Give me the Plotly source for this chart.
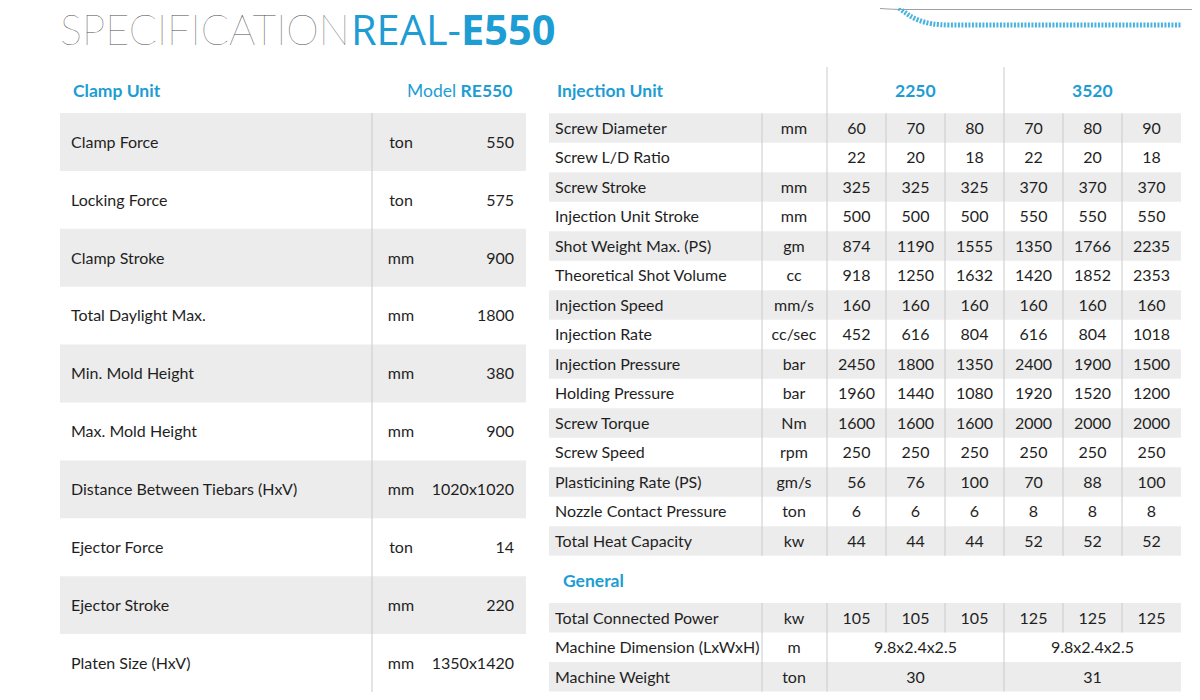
import plotly.graph_objects as go

# ---- data ----
clamp_params = [
    "Clamp Force", "Locking Force", "Clamp Stroke", "Total Daylight Max.",
    "Min. Mold Height", "Max. Mold Height", "Distance Between Tiebars (HxV)",
    "Ejector Force", "Ejector Stroke", "Platen Size (HxV)",
]
clamp_units = ["ton", "ton", "mm", "mm", "mm", "mm", "mm", "ton", "mm", "mm"]
clamp_values = ["550", "575", "900", "1800", "380", "900", "1020x1020", "14", "220", "1350x1420"]

inj_models = ["2250", "3520"]
inj_params = [
    "Screw Diameter", "Screw L/D Ratio", "Screw Stroke", "Injection Unit Stroke",
    "Shot Weight Max. (PS)", "Theoretical Shot Volume", "Injection Speed", "Injection Rate",
    "Injection Pressure", "Holding Pressure", "Screw Torque", "Screw Speed",
    "Plasticining Rate (PS)", "Nozzle Contact Pressure", "Total Heat Capacity",
]
inj_units = ["mm", "", "mm", "mm", "gm", "cc", "mm/s", "cc/sec", "bar", "bar", "Nm", "rpm", "gm/s", "ton", "kw"]
inj_2250 = [
    [60, 70, 80], [22, 20, 18], [325, 325, 325], [500, 500, 500], [874, 1190, 1555],
    [918, 1250, 1632], [160, 160, 160], [452, 616, 804], [2450, 1800, 1350],
    [1960, 1440, 1080], [1600, 1600, 1600], [250, 250, 250], [56, 76, 100],
    [6, 6, 6], [44, 44, 44],
]
inj_3520 = [
    [70, 80, 90], [22, 20, 18], [370, 370, 370], [550, 550, 550], [1350, 1766, 2235],
    [1420, 1852, 2353], [160, 160, 160], [616, 804, 1018], [2400, 1900, 1500],
    [1920, 1520, 1200], [2000, 2000, 2000], [250, 250, 250], [70, 88, 100],
    [8, 8, 8], [52, 52, 52],
]

gen_params = ["Total Connected Power", "Machine Dimension (LxWxH)", "Machine Weight"]
gen_units = ["kw", "m", "ton"]
gen_power = [105, 105, 105, 125, 125, 125]
gen_dimension = ["9.8x2.4x2.5", "9.8x2.4x2.5"]
gen_weight = ["30", "31"]

# ---- style / geometry (pixel space of the page) ----
BLUE = "#1d9dd3"
TEXT = "#1f1f1f"
STRIPE = "#ececec"
GRID = "#cacaca"
FONT = "Lato"
SIZE = 16
PAGE_OFFSET = 8  # body margin of the html page
DY = 1.8         # optical centring of the cell text

L_X0, L_X1, L_DIV = 60, 526, 372
L_TOP, L_ROW = 113, 57.9
R_X0, R_X1, R_UNIT_DIV = 549, 1181, 762
R_TOP, R_ROW = 113.3, 29.5
G_TOP = 603
V_X0, V_COLW = 827, 59


def rect(x0, x1, y0, y1):
    return dict(type="rect", xref="x", yref="y", x0=x0, x1=x1, y0=y0, y1=y1,
                fillcolor=STRIPE, line_width=0, layer="below")


def vline(x, y0, y1):
    return dict(type="line", xref="x", yref="y", x0=x, x1=x, y0=y0, y1=y1,
                line=dict(color=GRID, width=1), layer="above")


def text_trace(xs, ys, texts, pos, color=TEXT, size=SIZE):
    return go.Scatter(x=xs, y=[y + DY for y in ys], text=texts, mode="text", textposition=pos,
                      textfont=dict(family=FONT, size=size, color=color),
                      hoverinfo="skip", showlegend=False)


fig = go.Figure()
shapes = []

# left table
n_left = len(clamp_params)
left_y = [L_TOP + L_ROW * (i + 0.5) for i in range(n_left)]
for i in range(0, n_left, 2):
    shapes.append(rect(L_X0, L_X1, L_TOP + L_ROW * i, L_TOP + L_ROW * (i + 1)))
shapes.append(vline(L_DIV, L_TOP, L_TOP + L_ROW * n_left))
fig.add_trace(text_trace([71] * n_left, left_y, clamp_params, "middle right"))
fig.add_trace(text_trace([401] * n_left, left_y, clamp_units, "middle center"))
fig.add_trace(text_trace([514] * n_left, left_y, clamp_values, "middle left"))

# injection table
n_inj = len(inj_params)
inj_y = [R_TOP + R_ROW * (i + 0.5) for i in range(n_inj)]
inj_bottom = R_TOP + R_ROW * n_inj
for i in range(0, n_inj, 2):
    shapes.append(rect(R_X0, R_X1, R_TOP + R_ROW * i, R_TOP + R_ROW * (i + 1)))
col_x = [V_X0 + V_COLW * (c + 0.5) for c in range(6)]
fig.add_trace(text_trace([555] * n_inj, inj_y, inj_params, "middle right"))
fig.add_trace(text_trace([794] * n_inj, inj_y, inj_units, "middle center"))
xs, ys, ts = [], [], []
for r in range(n_inj):
    for c, v in enumerate(inj_2250[r] + inj_3520[r]):
        xs.append(col_x[c])
        ys.append(inj_y[r])
        ts.append(str(v))
fig.add_trace(text_trace(xs, ys, ts, "middle center"))

shapes.append(vline(R_UNIT_DIV, R_TOP, inj_bottom))
shapes.append(vline(V_X0, 67, inj_bottom))
shapes.append(vline(V_X0 + 3 * V_COLW, 67, inj_bottom))
for c in (1, 2, 4, 5):
    shapes.append(vline(V_X0 + V_COLW * c, R_TOP, inj_bottom))

# general table
n_gen = len(gen_params)
gen_y = [G_TOP + R_ROW * (i + 0.5) for i in range(n_gen)]
gen_bottom = G_TOP + R_ROW * n_gen
for i in range(0, n_gen, 2):
    shapes.append(rect(R_X0, R_X1, G_TOP + R_ROW * i, G_TOP + R_ROW * (i + 1)))
fig.add_trace(text_trace([555] * n_gen, gen_y, gen_params, "middle right"))
fig.add_trace(text_trace([794] * n_gen, gen_y, gen_units, "middle center"))
fig.add_trace(text_trace(col_x, [gen_y[0]] * 6, [str(v) for v in gen_power], "middle center"))
model_x = [V_X0 + V_COLW * 1.5, V_X0 + V_COLW * 4.5]
fig.add_trace(text_trace(model_x, [gen_y[1]] * 2, gen_dimension, "middle center"))
fig.add_trace(text_trace(model_x, [gen_y[2]] * 2, gen_weight, "middle center"))
shapes.append(vline(R_UNIT_DIV, G_TOP, gen_bottom))
shapes.append(vline(V_X0, G_TOP, gen_bottom))
shapes.append(vline(V_X0 + 3 * V_COLW, G_TOP, gen_bottom))
for c in (1, 2, 4, 5):
    shapes.append(vline(V_X0 + V_COLW * c, G_TOP, G_TOP + R_ROW))

# section headers
head_font = dict(family=FONT, size=17.5, color=BLUE)
annotations = [
    dict(x=71, y=90, text="<b>Clamp Unit</b>", xanchor="left"),
    dict(x=514, y=90, text="Model <b>RE550</b>", xanchor="right"),
    dict(x=555, y=90, text="<b>Injection Unit</b>", xanchor="left"),
    dict(x=model_x[0], y=90, text=f"<b>{inj_models[0]}</b>", xanchor="center"),
    dict(x=model_x[1], y=90, text=f"<b>{inj_models[1]}</b>", xanchor="center"),
    dict(x=561, y=580, text="<b>General</b>", xanchor="left"),
]
for a in annotations:
    a.update(xref="x", yref="y", yanchor="middle", showarrow=False, font=head_font)

# title, in three pieces
title_parts = [
    ("SPECIFICATION", 58, "left", "Lato", 100, "#4a4a4a"),
    ("REAL-", 349, "left", "Open Sans", 400, BLUE),
    ("E550", 557, "right", "Open Sans", 700, BLUE),
]
for txt, x, anchor, family, weight, color in title_parts:
    annotations.append(dict(
        x=x, y=29, xref="x", yref="y", xanchor=anchor, yanchor="middle", showarrow=False,
        text=txt, font=dict(family=family, size=41.5, color=color, weight=weight),
    ))

# top-right decoration
shapes.append(dict(type="path", xref="x", yref="y",
                   path="M 880 8.5 C 888 9, 895 9.5, 905 9.5 L 1200 9.5",
                   line=dict(color="#a0a0a0", width=1)))
shapes.append(dict(type="path", xref="x", yref="y",
                   path="M 899 8 C 912 18, 922 25, 950 25 L 1182 25",
                   line=dict(color="#49b3de", width=5, dash="2px,1.5px")))

fig.update_layout(
    width=1200, height=700,
    margin=dict(l=0, r=0, t=0, b=0),
    paper_bgcolor="white", plot_bgcolor="white",
    xaxis=dict(range=[PAGE_OFFSET, 1200 + PAGE_OFFSET], visible=False, fixedrange=True),
    yaxis=dict(range=[700 + PAGE_OFFSET, PAGE_OFFSET], visible=False, fixedrange=True),
    shapes=shapes, annotations=annotations,
)

fig.write_html("out.html")
